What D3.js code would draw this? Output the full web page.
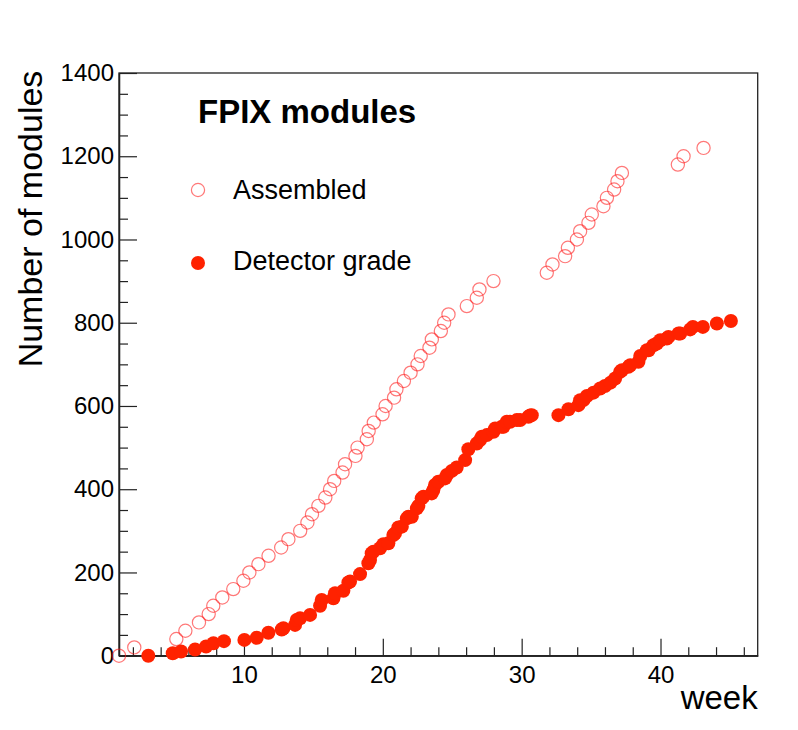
<!DOCTYPE html>
<html>
<head>
<meta charset="utf-8">
<script src="https://cdn.jsdelivr.net/npm/d3@7"></script>
<style>
  html, body { margin: 0; padding: 0; background: #fff; }
  svg { display: block; }
  text { font-family: "Liberation Sans", Arial, Helvetica, sans-serif; fill: #000; }
</style>
</head>
<body>
<svg id="chart" width="798" height="730"></svg>
<script>
// ---- Data ----
const assembledWeek = [1.0, 2.1, 5.13, 5.78, 6.76, 7.46, 7.79, 8.44, 9.23, 9.96, 10.39, 11.04, 11.77, 12.68, 13.2,
  14.05, 14.57, 14.9, 15.36, 15.86, 16.2, 16.5, 17.1, 17.28, 18.03, 18.18, 18.85, 18.98, 19.35, 19.98, 20.2,
  20.81, 20.98, 21.52, 22.0, 22.5, 22.73, 23.36, 23.53, 24.18, 24.42, 24.73, 26.05, 26.77, 26.96, 27.97,
  31.81, 32.22, 33.13, 33.33, 33.98, 34.21, 34.81, 35.05, 35.89, 36.14, 36.66, 36.9, 37.22,
  41.25, 41.66, 43.1];
const assembledCount = [0, 20, 40, 60, 80, 100, 120, 140, 160, 180, 200, 220, 240, 260, 280,
  300, 320, 340, 360, 380, 400, 420, 440, 460, 480, 500, 520, 540, 560, 580, 600,
  620, 640, 660, 680, 700, 720, 740, 760, 780, 800, 820, 840, 860, 880, 900,
  920, 940, 960, 980, 1000, 1020, 1040, 1060, 1080, 1100, 1120, 1140, 1160,
  1180, 1200, 1220];

const detectorWeek = [3.11, 4.87, 5.47, 6.48, 7.27, 7.8, 8.56, 10.03, 10.92, 11.76, 12.72, 12.84, 13.68, 13.8, 14.04,
  14.76, 15.48, 15.6, 16.44, 16.56, 17.16, 17.52, 17.64, 18.36, 18.96, 19.08, 19.2, 19.32, 19.8, 20.04,
  20.4, 20.76, 20.88, 21.12, 21.37, 21.73, 21.84, 22.09, 22.45, 22.56, 22.8, 22.92, 23.52, 23.64, 23.76,
  24.0, 24.48, 24.61, 24.97, 25.32, 25.93, 26.16, 26.77, 27.0, 27.13, 27.49, 27.97, 28.09, 28.57, 28.69,
  28.93, 29.17, 29.65, 29.89, 30.49, 30.61, 30.73,
  32.65, 33.37, 34.09, 34.21, 34.45, 34.7, 35.17, 35.65, 36.0, 36.4, 36.73, 37.09, 37.22, 37.69, 37.82,
  38.41, 38.54, 39.02, 39.14, 39.49, 39.74, 39.98, 40.46, 40.57, 41.3, 41.42, 42.14, 42.33, 43.05, 44.06, 45.07];
const detectorCount = [0, 6, 10, 15, 22, 30, 35, 38, 43, 55, 63, 66, 74, 86, 90,
  98, 120, 134, 138, 150, 156, 176, 178, 196, 222, 230, 246, 250, 258, 268,
  270, 290, 294, 308, 310, 330, 334, 334, 354, 360, 378, 382, 390, 398, 410,
  418, 426, 434, 444, 452, 470, 496, 510, 518, 526, 530, 538, 546, 550, 550,
  562, 562, 566, 566, 574, 577, 578,
  578, 592, 602, 614, 614, 624, 632, 642, 648, 656, 666, 682, 686, 694, 698,
  706, 720, 734, 734, 746, 750, 758, 762, 766, 774, 774, 784, 790, 790, 798, 804];

const xMajorTicks = [10, 20, 30, 40];
const xMinorTicks = [2, 4, 6, 8, 12, 14, 16, 18, 22, 24, 26, 28, 32, 34, 36, 38, 42, 44, 46];
const yMajorTicks = [0, 200, 400, 600, 800, 1000, 1200, 1400];
const yMinorTicks = [50, 100, 150, 250, 300, 350, 450, 500, 550, 650, 700, 750, 850, 900, 950, 1050, 1100, 1150, 1250, 1300, 1350];
const seriesNames = ["Assembled", "Detector grade"];
const chartTitle = "FPIX modules";
const xTitle = "week";
const yTitle = "Number of modules";

// ---- Layout ----
const frame = { left: 119, right: 757.7, top: 73, bottom: 655.7 };
const openColor = "rgba(255,30,30,0.6)";
const fillColor = "#ff2200";

const svg = d3.select("#chart");
const x = d3.scaleLinear().domain([1, 47]).range([frame.left, frame.right]);
const y = d3.scaleLinear().domain([0, 1400]).range([frame.bottom, frame.top]);

// Frame
svg.append("rect")
  .attr("x", frame.left).attr("y", frame.top)
  .attr("width", frame.right - frame.left).attr("height", frame.bottom - frame.top)
  .attr("fill", "none").attr("stroke", "#222").attr("stroke-width", 1.3);

// X axis
const gx = svg.append("g").attr("transform", `translate(0,${frame.bottom})`);
gx.call(d3.axisBottom(x).tickValues(xMajorTicks).tickSizeInner(-17).tickSizeOuter(0).tickPadding(10).tickFormat(d3.format("d")));
const gxm = svg.append("g").attr("transform", `translate(0,${frame.bottom})`);
gxm.call(d3.axisBottom(x).tickValues(xMinorTicks).tickSizeInner(-8.5).tickSizeOuter(0).tickFormat(""));

// Y axis
const gy = svg.append("g").attr("transform", `translate(${frame.left},0)`);
gy.call(d3.axisLeft(y).tickValues(yMajorTicks).tickSizeInner(-18).tickSizeOuter(0).tickPadding(5).tickFormat(d3.format("d")));
const gym = svg.append("g").attr("transform", `translate(${frame.left},0)`);
gym.call(d3.axisLeft(y).tickValues(yMinorTicks).tickSizeInner(-9).tickSizeOuter(0).tickFormat(""));

svg.selectAll(".domain").attr("stroke", "#222").attr("stroke-width", 1.3);
svg.selectAll(".tick line").attr("stroke", "#222").attr("stroke-width", 1.2);
svg.selectAll(".tick text")
  .attr("font-size", 24)
  .style("font-family", '"Liberation Sans", Arial, Helvetica, sans-serif')
  .attr("fill", "#000");

// Axis titles
svg.append("text")
  .attr("x", frame.right).attr("y", 709)
  .attr("text-anchor", "end").attr("font-size", 33)
  .text(xTitle);
svg.append("text")
  .attr("transform", "translate(42,219) rotate(-90)")
  .attr("text-anchor", "middle").attr("font-size", 34)
  .text(yTitle);

// Data: assembled (open circles)
svg.append("g").selectAll("circle")
  .data(assembledWeek.map((w, i) => ({ w, c: assembledCount[i] })))
  .join("circle")
  .attr("cx", d => x(d.w)).attr("cy", d => y(d.c))
  .attr("r", 6.6)
  .attr("fill", "none").attr("stroke", openColor).attr("stroke-width", 1.2);

// Data: detector grade (filled circles)
svg.append("g").selectAll("circle")
  .data(detectorWeek.map((w, i) => ({ w, c: detectorCount[i] })))
  .join("circle")
  .attr("cx", d => x(d.w)).attr("cy", d => y(d.c))
  .attr("r", 7)
  .attr("fill", fillColor);

// Title
svg.append("text")
  .attr("x", 198).attr("y", 123)
  .attr("font-size", 33).attr("font-weight", "bold")
  .text(chartTitle);

// Legend
const legend = svg.append("g");
legend.append("circle").attr("cx", 198).attr("cy", 190).attr("r", 6.6)
  .attr("fill", "none").attr("stroke", openColor).attr("stroke-width", 1.2);
legend.append("text").attr("x", 233).attr("y", 199).attr("font-size", 27).text(seriesNames[0]);
legend.append("circle").attr("cx", 198).attr("cy", 263).attr("r", 7).attr("fill", fillColor);
legend.append("text").attr("x", 233).attr("y", 270).attr("font-size", 27).text(seriesNames[1]);
</script>
</body>
</html>
